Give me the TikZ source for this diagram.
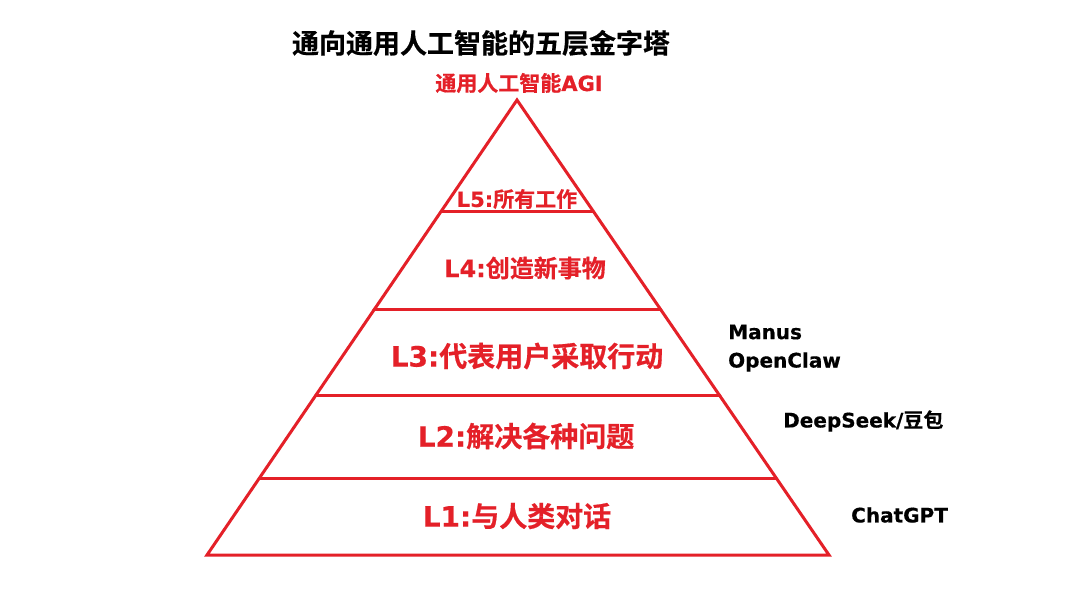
\documentclass[tikz,border=0pt]{standalone}
\usepackage{fontspec}
\setmainfont{Noto Sans CJK SC}[BoldFont={Noto Sans CJK SC Bold}]
\newfontfamily\cjkb{Noto Sans CJK SC Bold}[FakeBold=0.6]
\newfontfamily\latb{DejaVu Sans Bold}[FakeBold=0.4]
\usetikzlibrary{calc}
\definecolor{pyrred}{RGB}{228,32,40}
\tikzset{
  edge/.style={draw=pyrred, line width=3pt, line join=miter, line cap=round},
  redlabel/.style={text=pyrred, inner sep=0pt, anchor=center},
  sidelabel/.style={text=black, inner sep=0pt, anchor=west, font=\latb\fontsize{20}{23}\selectfont}
}
\begin{document}
\begin{tikzpicture}[x=1pt,y=-1pt]
\useasboundingbox[fill=white] (0,0) rectangle (1080,605);
\coordinate (apex) at (517,100);
\coordinate (bl) at (207,555);
\coordinate (br) at (829,555);
\foreach \n/\t in {a/0.2440,b/0.4615,c/0.6505,d/0.8308}{
  \coordinate (l\n) at ($(apex)!\t!(bl)$);
  \coordinate (r\n) at ($(apex)!\t!(br)$);
}
\draw[edge] (apex) -- (bl) -- (br) -- cycle;
\draw[edge] (la) -- (ra);
\draw[edge] (lb) -- (rb);
\draw[edge] (lc) -- (rc);
\draw[edge] (ld) -- (rd);

\node[inner sep=0pt, font=\cjkb\fontsize{27}{30}\selectfont] (title) at (481,43) {通向通用人工智能的五层金字塔};
\node[redlabel, font=\fontsize{21}{23}\selectfont] (agi) at (519,83) {\cjkb 通用人工智能\latb AGI};
\node[redlabel, font=\fontsize{21}{23}\selectfont] (l5) at (517,199) {\latb L5:\cjkb 所有工作};
\node[redlabel, font=\fontsize{24}{27}\selectfont] (l4) at (525,268) {\latb L4:\cjkb 创造新事物};
\node[redlabel, font=\fontsize{28}{31}\selectfont] (l3) at (527,356) {\latb L3:\cjkb 代表用户采取行动};
\node[redlabel, font=\fontsize{28}{31}\selectfont] (l2) at (526,436) {\latb L2:\cjkb 解决各种问题};
\node[redlabel, font=\fontsize{28}{31}\selectfont] (l1) at (517,516) {\latb L1:\cjkb 与人类对话};

\node[sidelabel] (manus) at (728,332) {Manus};
\node[sidelabel] (openclaw) at (728,362) {OpenClaw};
\node[sidelabel] (deepseek) at (783,421) {DeepSeek/{\cjkb 豆包}};
\node[sidelabel] (chatgpt) at (851,515) {ChatGPT};
\end{tikzpicture}
\end{document}
